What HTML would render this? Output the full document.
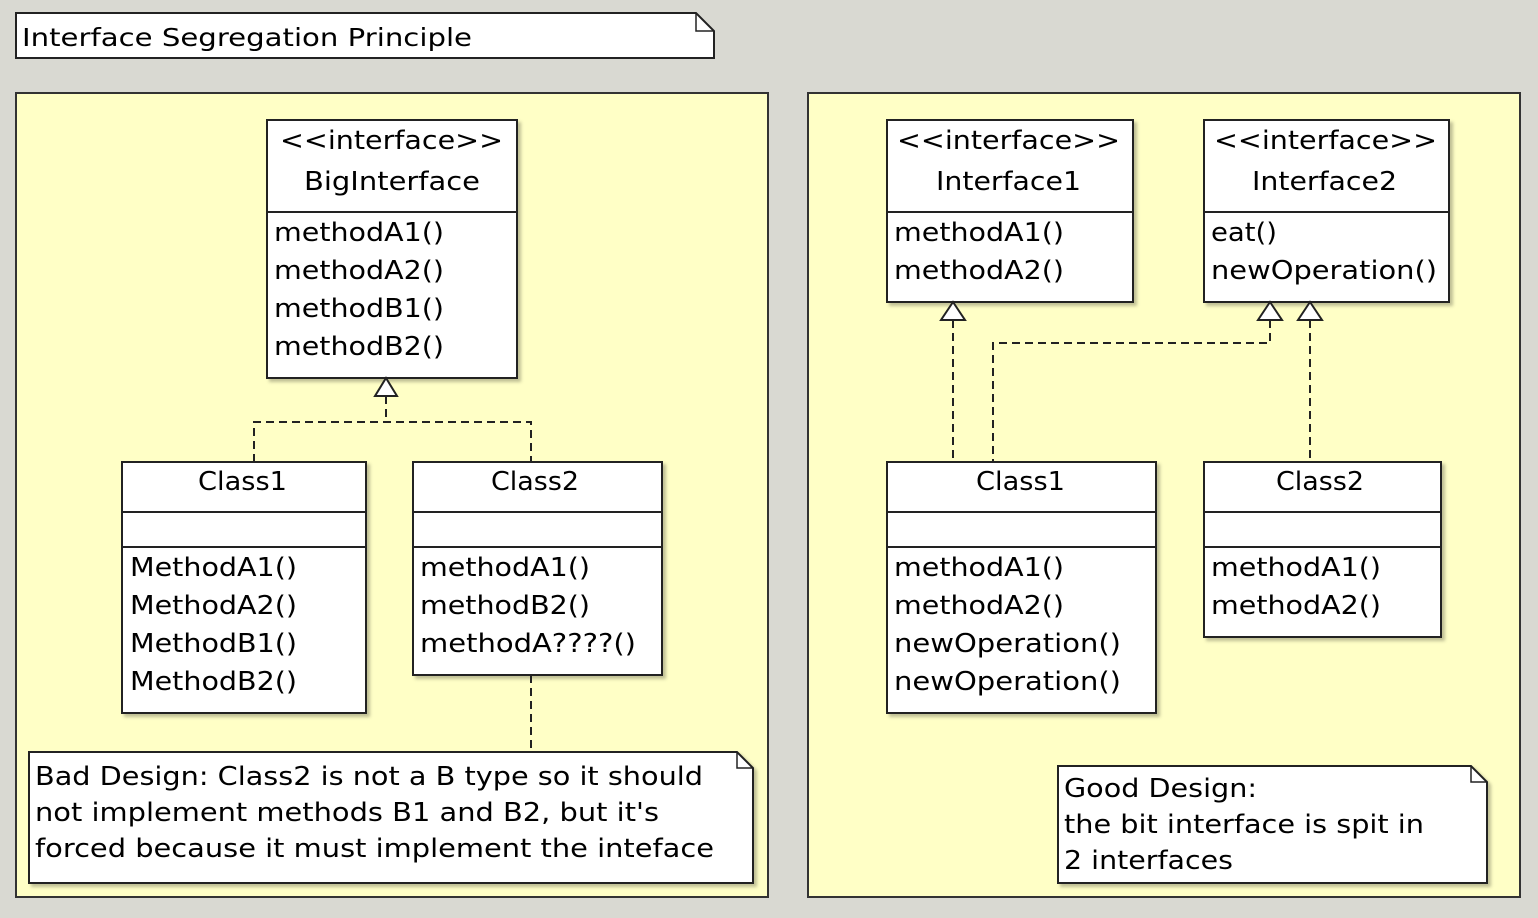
<!DOCTYPE html>
<html><head><meta charset="utf-8"><style>
html,body{margin:0;padding:0;background:#d9d9d2;}
svg{display:block;}
text{font-family:"DejaVu Sans","Liberation Sans",sans-serif;fill:#000;}
.c{font-size:26px;}
.n{font-size:26px;}
.b{fill:#fff;stroke:#222;stroke-width:2;}
.p{fill:#ffffc6;stroke:#333;stroke-width:2;}
.d{fill:none;stroke:#222;stroke-width:2;stroke-dasharray:8,5;}
.t{fill:#fff;stroke:#222;stroke-width:2;}
.l{stroke:#222;stroke-width:2;}
</style></head><body>
<svg width="1538" height="918" viewBox="0 0 1538 918" xmlns="http://www.w3.org/2000/svg">
<defs><filter id="s" x="-5%" y="-5%" width="110%" height="110%"><feDropShadow dx="3" dy="3" stdDeviation="1.5" flood-color="#000" flood-opacity="0.25"/></filter></defs>

<!-- title note -->
<path d="M16,13 H696 L714,31 V58 H16 Z" class="b"/>
<path d="M696,13 V31 H714" fill="none" stroke="#222" stroke-width="1.5"/>
<text x="22" y="46" font-size="25" textLength="450" lengthAdjust="spacingAndGlyphs">Interface Segregation Principle</text>

<!-- panels -->
<rect x="16" y="93" width="752" height="804" class="p"/>
<rect x="808" y="93" width="712" height="804" class="p"/>

<!-- LEFT -->
<g filter="url(#s)">
<rect x="267" y="120" width="250" height="258" class="b"/>
<rect x="122" y="462" width="244" height="251" class="b"/>
<rect x="413" y="462" width="249" height="213" class="b"/>
<path d="M29,752 H737 L753,768 V883 H29 Z" class="b"/>
</g>
<line x1="267" y1="212" x2="517" y2="212" class="l"/>
<text class="c" x="280" y="149" textLength="223" lengthAdjust="spacingAndGlyphs">&lt;&lt;interface&gt;&gt;</text>
<text class="c" x="304" y="190" textLength="176" lengthAdjust="spacingAndGlyphs">BigInterface</text>
<text class="c" x="274" y="241" textLength="170" lengthAdjust="spacingAndGlyphs">methodA1()</text>
<text class="c" x="274" y="279" textLength="170" lengthAdjust="spacingAndGlyphs">methodA2()</text>
<text class="c" x="274" y="317" textLength="170" lengthAdjust="spacingAndGlyphs">methodB1()</text>
<text class="c" x="274" y="355" textLength="170" lengthAdjust="spacingAndGlyphs">methodB2()</text>

<path d="M386,396 V422 M254,462 V422 H531 V462" class="d"/>
<path d="M386,378 L375,396 H397 Z" class="t"/>

<line x1="122" y1="512" x2="366" y2="512" class="l"/>
<line x1="122" y1="547" x2="366" y2="547" class="l"/>
<text class="c" x="198" y="490" textLength="89" lengthAdjust="spacingAndGlyphs">Class1</text>
<text class="c" x="130" y="576" textLength="167" lengthAdjust="spacingAndGlyphs">MethodA1()</text>
<text class="c" x="130" y="614" textLength="167" lengthAdjust="spacingAndGlyphs">MethodA2()</text>
<text class="c" x="130" y="652" textLength="167" lengthAdjust="spacingAndGlyphs">MethodB1()</text>
<text class="c" x="130" y="690" textLength="167" lengthAdjust="spacingAndGlyphs">MethodB2()</text>

<line x1="413" y1="512" x2="662" y2="512" class="l"/>
<line x1="413" y1="547" x2="662" y2="547" class="l"/>
<text class="c" x="491" y="490" textLength="88" lengthAdjust="spacingAndGlyphs">Class2</text>
<text class="c" x="420" y="576" textLength="170" lengthAdjust="spacingAndGlyphs">methodA1()</text>
<text class="c" x="420" y="614" textLength="170" lengthAdjust="spacingAndGlyphs">methodB2()</text>
<text class="c" x="420" y="652" textLength="216" lengthAdjust="spacingAndGlyphs">methodA????()</text>

<path d="M531,675 V752" class="d"/>
<path d="M737,752 V768 H753" fill="none" stroke="#222" stroke-width="1.5"/>
<text class="n" x="35" y="785" textLength="668" lengthAdjust="spacingAndGlyphs">Bad Design: Class2 is not a B type so it should</text>
<text class="n" x="35" y="821" textLength="624" lengthAdjust="spacingAndGlyphs">not implement methods B1 and B2, but it's</text>
<text class="n" x="35" y="857" textLength="679" lengthAdjust="spacingAndGlyphs">forced because it must implement the inteface</text>

<!-- RIGHT -->
<g filter="url(#s)">
<rect x="887" y="120" width="246" height="182" class="b"/>
<rect x="1204" y="120" width="245" height="182" class="b"/>
<rect x="887" y="462" width="269" height="251" class="b"/>
<rect x="1204" y="462" width="237" height="175" class="b"/>
<path d="M1058,766 H1471 L1487,782 V883 H1058 Z" class="b"/>
</g>
<line x1="887" y1="212" x2="1133" y2="212" class="l"/>
<text class="c" x="897" y="149" textLength="223" lengthAdjust="spacingAndGlyphs">&lt;&lt;interface&gt;&gt;</text>
<text class="c" x="936" y="190" textLength="145" lengthAdjust="spacingAndGlyphs">Interface1</text>
<text class="c" x="894" y="241" textLength="170" lengthAdjust="spacingAndGlyphs">methodA1()</text>
<text class="c" x="894" y="279" textLength="170" lengthAdjust="spacingAndGlyphs">methodA2()</text>

<line x1="1204" y1="212" x2="1449" y2="212" class="l"/>
<text class="c" x="1214" y="149" textLength="223" lengthAdjust="spacingAndGlyphs">&lt;&lt;interface&gt;&gt;</text>
<text class="c" x="1252" y="190" textLength="145" lengthAdjust="spacingAndGlyphs">Interface2</text>
<text class="c" x="1211" y="241" textLength="66" lengthAdjust="spacingAndGlyphs">eat()</text>
<text class="c" x="1211" y="279" textLength="226" lengthAdjust="spacingAndGlyphs">newOperation()</text>

<path d="M953,320 V462 M1270,320 V343 H993 V462 M1310,320 V462" class="d"/>
<path d="M953,302 L941,320 H965 Z" class="t"/>
<path d="M1270,302 L1258,320 H1282 Z" class="t"/>
<path d="M1310,302 L1298,320 H1322 Z" class="t"/>

<line x1="887" y1="512" x2="1156" y2="512" class="l"/>
<line x1="887" y1="547" x2="1156" y2="547" class="l"/>
<text class="c" x="976" y="490" textLength="89" lengthAdjust="spacingAndGlyphs">Class1</text>
<text class="c" x="894" y="576" textLength="170" lengthAdjust="spacingAndGlyphs">methodA1()</text>
<text class="c" x="894" y="614" textLength="170" lengthAdjust="spacingAndGlyphs">methodA2()</text>
<text class="c" x="894" y="652" textLength="227" lengthAdjust="spacingAndGlyphs">newOperation()</text>
<text class="c" x="894" y="690" textLength="227" lengthAdjust="spacingAndGlyphs">newOperation()</text>

<line x1="1204" y1="512" x2="1441" y2="512" class="l"/>
<line x1="1204" y1="547" x2="1441" y2="547" class="l"/>
<text class="c" x="1276" y="490" textLength="88" lengthAdjust="spacingAndGlyphs">Class2</text>
<text class="c" x="1211" y="576" textLength="170" lengthAdjust="spacingAndGlyphs">methodA1()</text>
<text class="c" x="1211" y="614" textLength="170" lengthAdjust="spacingAndGlyphs">methodA2()</text>

<path d="M1471,766 V782 H1487" fill="none" stroke="#222" stroke-width="1.5"/>
<text class="n" x="1064" y="797" textLength="193" lengthAdjust="spacingAndGlyphs">Good Design:</text>
<text class="n" x="1064" y="833" textLength="360" lengthAdjust="spacingAndGlyphs">the bit interface is spit in</text>
<text class="n" x="1064" y="869" textLength="169" lengthAdjust="spacingAndGlyphs">2 interfaces</text>
</svg>
</body></html>
